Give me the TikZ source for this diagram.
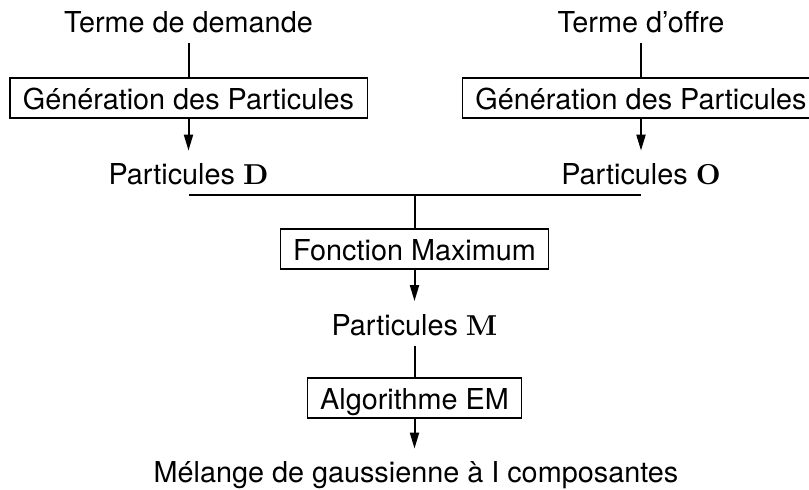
\documentclass[tikz,border=0pt]{standalone}
\usepackage[no-math]{fontspec}
\setmainfont{TeX Gyre Heros}
\newfontfamily\lmbold{lmroman10-bold.otf}
\newcommand{\bsym}[1]{{\lmbold #1}}
\usetikzlibrary{arrows.meta,calc}
\begin{document}
\begin{tikzpicture}[x=0.5pt,y=-0.5pt,
  every node/.style={font=\fontsize{14.4}{17}\selectfont},
  lbl/.style={inner xsep=0pt, inner ysep=0pt, text height=17pt, text depth=5pt, anchor=base},
  procbox/.style={draw, line width=0.6pt, inner xsep=6.5pt, inner ysep=0pt, text height=16pt, text depth=4pt, anchor=base},
  conn/.style={line width=1pt},
  arr/.style={conn, -{Triangle[length=8pt,width=4.5pt]}}]
\clip (0,0) rectangle (809,490);
\useasboundingbox (0,0) rectangle (809,490);
\node[lbl] (td) at (188.5,33) {Terme de demande};
\node[lbl] (to) at (641,33) {Terme d’offre};
\node[procbox] (g1) at (188.5,110) {Génération des Particules};
\node[procbox] (g2) at (641,110) {Génération des Particules};
\node[lbl] (pd) at (188.5,185) {Particules \bsym{D}};
\node[lbl] (po) at (641,185) {Particules \bsym{O}};
\node[procbox] (fm) at (414.5,261) {Fonction Maximum};
\node[lbl] (pm) at (414.5,335.5) {Particules \bsym{M}};
\node[procbox] (em) at (414.5,410) {Algorithme EM};
\node[lbl] (mel) at (416,483) {Mélange de gaussienne à I composantes};
\coordinate (mid) at ($(pd.south)!0.5!(po.south)$);
\draw[conn] (td.south) -- (g1.north);
\draw[conn] (to.south) -- (g2.north);
\draw[arr] (g1.south) -- (pd.north);
\draw[arr] (g2.south) -- (po.north);
\draw[conn] (pd.south) -- (po.south);
\draw[conn] (mid) -- (mid |- fm.north);
\draw[arr] (fm.south) -- (pm.north);
\draw[conn] (pm.south) -- (em.north);
\draw[arr] (em.south) -- (em.south |- mel.north);
\end{tikzpicture}
\end{document}
